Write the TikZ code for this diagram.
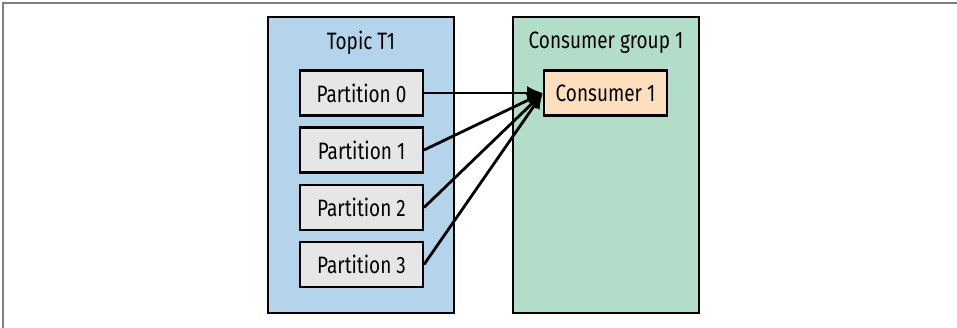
\documentclass[tikz,border=0pt]{standalone}
\usepackage{fontspec}
\setmainfont{Fira Sans}[FakeStretch=0.8]
\usetikzlibrary{arrows.meta}

\definecolor{topicblue}{RGB}{179,212,234}
\definecolor{groupgreen}{RGB}{178,221,200}
\definecolor{partgray}{RGB}{230,230,230}
\definecolor{consorange}{RGB}{253,222,189}

\begin{document}
\begin{tikzpicture}[x=0.02cm,y=-0.02cm]
\tikzstyle{every node}=[inner sep=0pt, font=\fontsize{13.5}{15}\selectfont]
\tikzstyle{group}=[draw, line width=1.2pt, minimum width=3.72cm, minimum height=5.92cm]
\tikzstyle{part}=[draw, line width=1.2pt, fill=partgray, minimum width=2.46cm, minimum height=0.9cm]
\tikzstyle{link}=[line width=1.6pt, -{Latex[length=9pt,width=8pt]}]
\useasboundingbox (0,0) rectangle (957,328);
\draw[gray, line width=1pt] (3,328) -- (3,3) -- (957,3);
% boxes
\draw (361,165) node (topic) [group,fill=topicblue] {};
\draw (606,165) node (group) [group,fill=groupgreen] {};
\draw (361,43) node (tlabel) {Topic T1};
\draw (606,43) node (glabel) {Consumer group 1};
\draw (361.5,93) node (p0) [part] {Partition 0};
\draw (361.5,150) node (p1) [part] {Partition 1};
\draw (361.5,207.5) node (p2) [part] {Partition 2};
\draw (361.5,264.5) node (p3) [part] {Partition 3};
\draw (605.5,93) node (c1) [part,fill=consorange] {Consumer 1};
% links
\draw[link] (p0.east) -- (c1.west);
\draw[link] (p1.east) -- (c1.west);
\draw[link] (p2.east) -- (c1.west);
\draw[link] (p3.east) -- (c1.west);
\end{tikzpicture}
\end{document}
